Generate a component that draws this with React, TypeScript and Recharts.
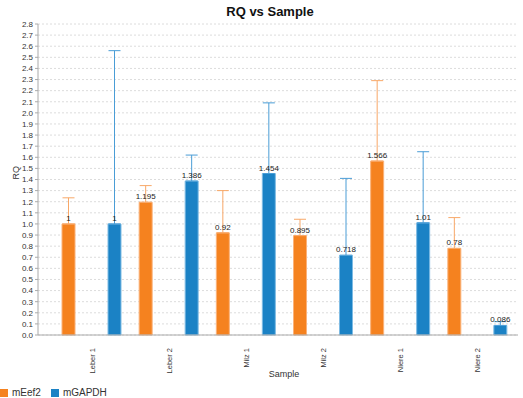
import React from "react";
import {
  BarChart,
  Bar,
  XAxis,
  YAxis,
  CartesianGrid,
  ErrorBar,
  LabelList,
  Legend,
} from "recharts";

const samples = ["Leber 1", "Leber 2", "Milz 1", "Milz 2", "Niere 1", "Niere 2"];
const mEef2 = [1, 1.195, 0.92, 0.895, 1.566, 0.78];
const mGAPDH = [1, 1.386, 1.454, 0.718, 1.01, 0.086];
// upper end of the whiskers
const mEef2Upper = [1.235, 1.345, 1.3, 1.042, 2.29, 1.057];
const mGAPDHUpper = [2.56, 1.62, 2.09, 1.41, 1.65, 0.12];
const yTicks = [
  0, 0.1, 0.2, 0.3, 0.4, 0.5, 0.6, 0.7, 0.8, 0.9, 1, 1.1, 1.2, 1.3, 1.4,
  1.5, 1.6, 1.7, 1.8, 1.9, 2, 2.1, 2.2, 2.3, 2.4, 2.5, 2.6, 2.7, 2.8,
];

const data = samples.map((s, i) => ({
  sample: s,
  mEef2: mEef2[i],
  mGAPDH: mGAPDH[i],
  mEef2Err: [0, +(mEef2Upper[i] - mEef2[i]).toFixed(3)],
  mGAPDHErr: [0, +(mGAPDHUpper[i] - mGAPDH[i]).toFixed(3)],
}));

const FONT = "'Liberation Sans', Arial, sans-serif";

const SampleTick = (props: any) => {
  const { x, y, payload } = props;
  return (
    <g transform={`translate(${x},${y})`}>
      <text
        transform="rotate(-90)"
        x={-5}
        y={0}
        dy={3}
        textAnchor="end"
        fontSize={7.5}
        fill="#333"
        fontFamily={FONT}
      >
        {payload.value}
      </text>
    </g>
  );
};

export default function App() {
  return (
    <div
      style={{
        position: "absolute",
        left: 0,
        top: 0,
        width: 523,
        height: 398,
        background: "white",
        fontFamily: FONT,
      }}
    >
      <div
        style={{
          position: "absolute",
          left: 0,
          top: 4,
          width: 540,
          textAlign: "center",
          fontSize: 13,
          fontWeight: "bold",
          color: "#111",
        }}
      >
        RQ vs Sample
      </div>
      <BarChart
        width={523}
        height={398}
        data={data}
        margin={{ top: 24, right: 5, left: 0, bottom: 0 }}
        barSize={13}
        barGap={33}
      >
        <CartesianGrid vertical={false} stroke="#dcdcdc" strokeDasharray="2 2" />
        <XAxis
          dataKey="sample"
          height={52}
          padding={{ left: 15, right: 2 }}
          tickLine={false}
          axisLine={{ stroke: "#aaa" }}
          tick={<SampleTick />}
          interval={0}
          label={{
            value: "Sample",
            position: "insideBottom",
            offset: 10,
            dx: 6,
            fontSize: 9,
            fill: "#333",
            fontFamily: FONT,
          }}
        />
        <YAxis
          width={38}
          domain={[0, 2.8]}
          ticks={yTicks}
          interval={0}
          tickFormatter={(v: number) => v.toFixed(1)}
          tickSize={3}
          tickLine={{ stroke: "#aaa" }}
          axisLine={{ stroke: "#aaa" }}
          tick={{ fontSize: 8, fill: "#333", fontFamily: FONT }}
          label={{
            value: "RQ",
            angle: -90,
            position: "insideLeft",
            offset: 16,
            fontSize: 9,
            fill: "#333",
            fontFamily: FONT,
          }}
        />
        <Legend
          verticalAlign="bottom"
          align="left"
          iconType="square"
          iconSize={8}
          formatter={(value: string) => <span style={{ color: "#333" }}>{value}</span>}
          wrapperStyle={{ fontSize: 10, left: 0, fontFamily: FONT }}
        />
        <Bar
          dataKey="mEef2"
          name="mEef2"
          fill="#f5821f"
          stroke="#fbb27a"
          strokeWidth={1}
          isAnimationActive={false}
        >
          <ErrorBar dataKey="mEef2Err" direction="y" width={6} stroke="#f8a868" strokeWidth={1} />
          <LabelList dataKey="mEef2" position="top" offset={3} fontSize={8} fill="#222" />
        </Bar>
        <Bar
          dataKey="mGAPDH"
          name="mGAPDH"
          fill="#1b82c5"
          stroke="#7dbbe4"
          strokeWidth={1}
          isAnimationActive={false}
        >
          <ErrorBar dataKey="mGAPDHErr" direction="y" width={6} stroke="#4a9dd6" strokeWidth={1} />
          <LabelList dataKey="mGAPDH" position="top" offset={3} fontSize={8} fill="#222" />
        </Bar>
      </BarChart>
    </div>
  );
}
